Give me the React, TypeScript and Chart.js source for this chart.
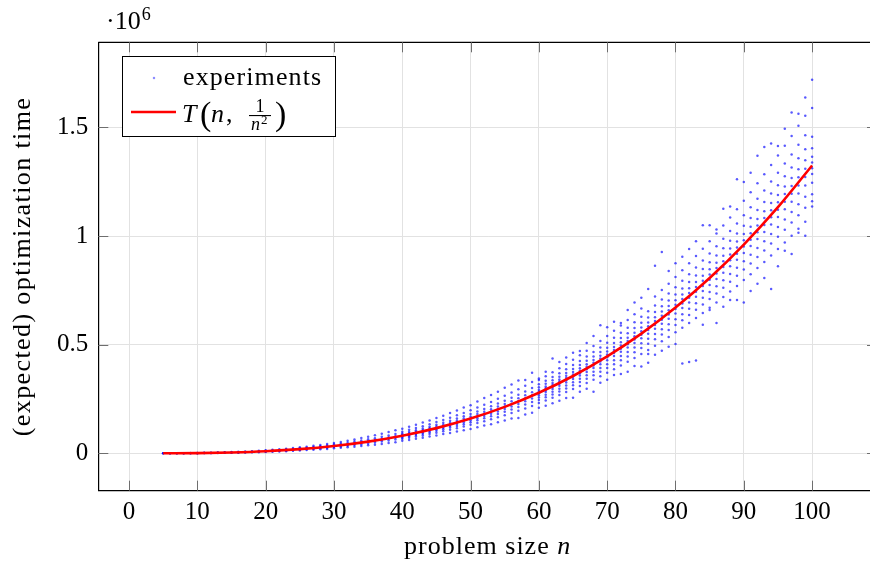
import React, { useEffect, useRef } from "react";
import { Chart, registerables } from "chart.js";

Chart.register(...registerables);

// problem sizes n of the experiments
const experimentN: number[] = [
  5, 6, 7, 8, 9, 10, 11, 12, 13, 14, 15, 16, 17, 18, 19, 20, 21, 22, 23, 24,
  25, 26, 27, 28, 29, 30, 31, 32, 33, 34, 35, 36, 37, 38, 39, 40, 41, 42, 43, 44,
  45, 46, 47, 48, 49, 50, 51, 52, 53, 54, 55, 56, 57, 58, 59, 60, 61, 62, 63, 64,
  65, 66, 67, 68, 69, 70, 71, 72, 73, 74, 75, 76, 77, 78, 79, 80, 81, 82, 83, 84,
  85, 86, 87, 88, 89, 90, 91, 92, 93, 94, 95, 96, 97, 98, 99, 100,
];

// measured optimization times, in thousands, one row per n
const experimentTimesK: number[][] = [
  [0.09, 0.14, 0.21],
  [0.16, 0.24, 0.37],
  [0.27, 0.41, 0.58],
  [0.38, 0.57, 0.88],
  [0.55, 0.83, 1.24],
  [0.74, 1.12, 1.71, 0.95],
  [1.02, 1.49, 2.3, 1.31],
  [1.31, 1.97, 2.94, 1.7],
  [1.72, 2.51, 3.72, 2.2],
  [2.12, 3.18, 4.7, 2.83],
  [2.69, 3.9, 5.71, 3.42],
  [3.21, 4.8, 7.02, 4.18],
  [3.92, 5.7, 8.35, 5.12],
  [4.61, 6.88, 9.95, 6.02],
  [5.52, 8.1, 11.8, 7.05],
  [6.5, 8.2, 9.4, 10.3, 11.7, 13.9],
  [7.6, 9.6, 10.9, 12.0, 13.5, 16.1],
  [8.9, 11.2, 12.6, 13.7, 15.6, 18.3],
  [10.1, 12.8, 14.3, 15.9, 17.9, 21.4],
  [11.6, 14.5, 16.4, 17.9, 20.2, 24.0],
  [13.0, 16.5, 18.6, 20.3, 22.9, 27.5],
  [14.8, 18.4, 21.0, 22.9, 25.8, 30.6],
  [16.4, 20.9, 23.5, 25.6, 29.3, 34.8],
  [18.5, 23.1, 26.2, 28.8, 32.4, 38.9],
  [20.4, 25.9, 29.1, 31.9, 36.3, 43.0],
  [22.9, 28.6, 32.4, 35.5, 40.1, 47.9],
  [25.2, 31.8, 35.7, 39.0, 44.5, 52.6],
  [27.9, 34.8, 39.5, 43.2, 48.8, 58.4],
  [30.6, 38.3, 43.3, 47.5, 53.9, 63.7],
  [33.3, 42.0, 47.4, 51.8, 58.6, 70.1],
  [36.7, 45.7, 51.9, 56.8, 64.3, 76.2],
  [39.8, 50.0, 56.3, 61.9, 69.8, 83.4],
  [43.4, 54.2, 61.5, 67.0, 76.0, 90.2],
  [47.0, 58.9, 66.6, 72.9, 82.3, 98.4],
  [51.1, 63.6, 72.2, 78.8, 89.4, 106.2],
  [57.5, 66.8, 72.4, 77.3, 81.6, 85.9, 91.4, 99.2, 113.5],
  [61.1, 71.2, 78.3, 83.5, 88.1, 93.0, 99.6, 108.3, 121.9],
  [67.2, 77.5, 83.9, 89.6, 94.8, 99.9, 106.5, 116.3, 131.8],
  [71.3, 82.4, 90.1, 96.3, 101.9, 107.4, 114.6, 125.0, 142.1],
  [77.9, 89.0, 96.8, 103.2, 109.1, 115.0, 122.5, 133.4, 150.7],
  [82.0, 95.1, 103.6, 110.5, 116.7, 123.1, 131.3, 143.8, 162.4],
  [88.7, 101.6, 110.9, 118.2, 124.8, 131.8, 140.4, 153.5, 173.0],
  [93.9, 108.7, 118.4, 126.3, 133.4, 140.7, 150.1, 164.0, 186.2],
  [101.0, 115.7, 126.1, 134.5, 142.3, 150.2, 160.1, 174.8, 197.4],
  [106.3, 123.4, 134.3, 143.3, 151.5, 159.8, 170.4, 186.2, 211.5],
  [111.8, 131.2, 142.7, 152.6, 161.1, 170.0, 181.3, 198.4, 221.0],
  [120.4, 139.1, 151.8, 162.0, 171.2, 180.6, 192.6, 210.6, 238.2],
  [127.6, 148.0, 161.0, 171.8, 181.5, 191.7, 204.2, 223.4, 254.3],
  [134.1, 156.7, 170.5, 182.2, 192.4, 203.0, 216.5, 236.6, 268.9],
  [143.4, 165.9, 180.8, 192.9, 203.8, 215.1, 229.4, 250.7, 283.5],
  [150.8, 175.6, 191.1, 204.0, 215.6, 227.5, 242.5, 265.3, 301.6],
  [160.3, 185.3, 201.8, 215.4, 227.6, 240.1, 256.1, 279.7, 316.9],
  [162.4, 195.6, 213.0, 227.3, 240.2, 253.4, 270.2, 295.4, 335.0],
  [178.6, 206.2, 224.6, 239.7, 253.2, 267.2, 284.9, 311.3, 338.0],
  [187.2, 217.4, 236.7, 252.6, 266.9, 281.7, 300.3, 328.5, 371.2],
  [209.3, 231.6, 245.5, 256.7, 267.8, 276.2, 284.6, 293.0, 304.1, 318.1, 337.6, 345.0],
  [219.2, 243.6, 258.3, 270.0, 281.8, 290.6, 299.4, 308.2, 320.0, 334.6, 355.1, 376.0],
  [230.1, 255.8, 271.2, 283.5, 295.9, 305.1, 314.4, 323.6, 335.9, 351.3, 372.9, 437.0],
  [242.0, 268.7, 284.9, 297.8, 310.8, 320.5, 330.2, 339.9, 352.8, 369.0, 391.7, 420.8],
  [255.0, 281.9, 298.9, 312.5, 326.1, 336.3, 346.5, 356.7, 370.3, 387.3, 411.0, 441.6],
  [256.0, 295.6, 313.5, 327.7, 342.0, 352.6, 363.3, 374.0, 388.3, 406.1, 431.0, 463.1],
  [283.4, 309.5, 328.2, 343.1, 358.0, 369.2, 380.4, 391.5, 406.5, 425.1, 451.2, 471.0],
  [296.8, 324.1, 343.6, 359.3, 374.9, 386.6, 398.3, 410.0, 425.6, 445.2, 472.5, 507.7],
  [284.0, 339.2, 359.7, 376.0, 392.4, 404.6, 416.9, 429.1, 445.5, 465.9, 494.5, 540.0],
  [324.8, 354.7, 376.1, 393.2, 410.3, 423.1, 436.0, 448.8, 465.9, 487.2, 517.2, 590.0],
  [339.2, 370.4, 392.7, 410.6, 428.4, 441.8, 455.2, 468.6, 486.5, 508.8, 540.0, 580.2],
  [360.0, 386.9, 410.3, 428.9, 447.6, 461.5, 475.5, 489.5, 508.2, 531.5, 564.1, 606.1],
  [365.0, 403.9, 428.2, 447.7, 467.1, 481.7, 496.3, 510.9, 530.4, 554.7, 588.8, 600.0],
  [376.0, 421.0, 446.3, 466.6, 486.9, 502.1, 517.3, 532.6, 552.8, 578.2, 613.7, 659.4],
  [402.0, 439.0, 465.4, 486.6, 507.7, 523.6, 539.5, 555.3, 576.5, 602.9, 640.0, 694.0],
  [400.0, 457.5, 485.1, 507.1, 529.2, 545.7, 562.2, 578.8, 600.8, 628.4, 667.0, 716.6],
  [417.0, 457.0, 476.0, 504.7, 527.6, 550.6, 567.8, 585.0, 602.2, 625.1, 653.8, 757.0],
  [453.7, 495.5, 525.4, 549.2, 573.1, 591.0, 608.9, 626.9, 650.7, 680.6, 722.4, 864.0],
  [472.1, 515.6, 546.7, 571.5, 596.4, 615.0, 633.6, 652.3, 677.1, 708.2, 751.7, 927.0],
  [490.5, 535.7, 568.0, 593.8, 619.6, 639.0, 658.3, 677.7, 703.5, 735.8, 781.0, 839.0],
  [503.0, 556.8, 590.4, 617.2, 644.1, 664.2, 684.3, 704.4, 731.3, 764.8, 811.8, 875.0],
  [413.0, 578.0, 612.8, 640.7, 668.5, 689.4, 710.3, 731.2, 759.1, 793.9, 842.6, 905.3],
  [420.0, 600.3, 636.5, 665.4, 694.4, 716.1, 737.8, 759.5, 788.4, 824.6, 875.2, 940.3],
  [427.0, 623.2, 660.7, 690.7, 720.8, 743.3, 765.8, 788.3, 818.4, 855.9, 908.5, 976.0],
  [591.5, 646.0, 684.9, 716.0, 747.2, 770.5, 793.9, 817.2, 848.3, 887.3, 941.7, 1050.0],
  [660.0, 670.0, 710.3, 742.6, 774.9, 799.1, 823.3, 847.6, 879.8, 920.2, 976.7, 1049.4],
  [600.0, 693.9, 735.7, 769.1, 802.6, 827.6, 852.7, 877.8, 911.2, 953.0, 1011.6, 1030.0],
  [675.0, 719.1, 762.4, 797.1, 831.7, 857.7, 883.7, 909.7, 944.4, 987.7, 1048.3, 1126.3],
  [706.0, 744.9, 789.8, 825.7, 861.6, 888.5, 915.5, 942.4, 978.3, 1023.2, 1086.0, 1136.0],
  [705.7, 770.7, 817.1, 854.2, 891.4, 919.2, 947.1, 974.9, 1012.1, 1058.5, 1123.5, 1262.0],
  [694.0, 797.7, 845.8, 884.2, 922.7, 951.5, 980.3, 1009.2, 1047.6, 1095.7, 1162.9, 1249.4],
  [747.0, 824.6, 874.3, 914.0, 953.8, 983.6, 1013.4, 1043.2, 1082.9, 1132.6, 1202.1, 1291.6],
  [781.0, 852.9, 904.3, 945.4, 986.5, 1017.3, 1048.2, 1079.0, 1120.1, 1171.5, 1243.4, 1370.0],
  [806.7, 881.0, 934.1, 976.6, 1019.0, 1050.9, 1082.7, 1114.6, 1157.0, 1210.1, 1284.4, 1410.0],
  [757.0, 910.7, 965.5, 1009.4, 1053.3, 1086.2, 1119.1, 1152.1, 1195.9, 1250.8, 1327.6, 1426.4],
  [860.8, 940.1, 996.7, 1042.0, 1087.3, 1121.3, 1155.3, 1189.2, 1234.5, 1291.2, 1370.4, 1415.0],
  [933.0, 971.0, 1029.5, 1076.3, 1123.1, 1158.2, 1193.3, 1228.4, 1275.2, 1333.7, 1415.6, 1494.0],
  [917.2, 1001.7, 1062.1, 1110.3, 1158.6, 1194.8, 1231.0, 1267.2, 1315.5, 1375.9, 1460.3, 1569.0],
  [1015.0, 1034.0, 1096.3, 1146.1, 1196.0, 1233.3, 1270.7, 1308.1, 1357.9, 1420.2, 1507.4, 1563.0],
  [1002.0, 1066.1, 1130.3, 1181.6, 1233.0, 1271.6, 1310.1, 1348.6, 1400.0, 1464.2, 1554.1, 1638.0],
  [1136.0, 1160.0, 1192.5, 1245.5, 1285.3, 1311.8, 1338.3, 1364.8, 1404.5, 1457.5, 1590.0, 1720.0],
];

// expected optimization time T(n, 1/n^2), in thousands
const curveN: number[] = [5, 10, 15, 20, 25, 30, 35, 40, 45, 50, 55, 60, 65, 70, 75, 80, 85, 90, 95, 100];
const curveK: number[] = [
  0.14, 1.18, 4.06, 9.78, 19.3, 33.7, 53.9, 81.0, 116.0, 160.0,
  214.0, 279.0, 356.0, 446.0, 551.0, 671.0, 807.0, 961.0, 1133.0, 1325.0,
];

const xTickValues: number[] = [0, 10, 20, 30, 40, 50, 60, 70, 80, 90, 100];
const yTickValues: number[] = [0, 0.5, 1, 1.5]; // in units of 10^6

const SERIF = "'Liberation Serif', 'Times New Roman', serif";
const DOT = "rgba(0,0,255,0.65)";

function spaced(ctx: CanvasRenderingContext2D, px: number) {
  (ctx as any).letterSpacing = `${px}px`;
}

const decorPlugin = {
  id: "decor",
  afterDraw(chart: any) {
    const ctx: CanvasRenderingContext2D = chart.ctx;
    const { left, right, top, bottom } = chart.chartArea;
    const xs = chart.scales.x;
    const ys = chart.scales.y;
    ctx.save();

    // box top & right lines
    ctx.strokeStyle = "#000";
    ctx.lineWidth = 1.2;
    ctx.beginPath();
    ctx.moveTo(left, top);
    ctx.lineTo(right, top);
    ctx.lineTo(right, bottom);
    ctx.stroke();

    // inward ticks
    ctx.strokeStyle = "#6e6e6e";
    ctx.lineWidth = 1;
    const tl = 10;
    ctx.beginPath();
    for (const v of xTickValues) {
      const px = Math.round(xs.getPixelForValue(v)) + 0.5;
      ctx.moveTo(px, bottom);
      ctx.lineTo(px, bottom - tl);
      ctx.moveTo(px, top);
      ctx.lineTo(px, top + tl);
    }
    for (const v of yTickValues) {
      const py = Math.round(ys.getPixelForValue(v * 1e6)) + 0.5;
      ctx.moveTo(left, py);
      ctx.lineTo(left + tl, py);
      ctx.moveTo(right, py);
      ctx.lineTo(right - tl, py);
    }
    ctx.stroke();

    ctx.fillStyle = "#000";
    ctx.textBaseline = "alphabetic";

    // x axis title
    const xt1 = "problem size ";
    const xt2 = "n";
    spaced(ctx, 1);
    ctx.font = `26px ${SERIF}`;
    const w1 = ctx.measureText(xt1).width;
    ctx.font = `italic 26px ${SERIF}`;
    const w2 = ctx.measureText(xt2).width;
    const cx = (left + Math.min(right, 877)) / 2;
    const sx = cx - (w1 + w2) / 2;
    ctx.textAlign = "left";
    ctx.font = `26px ${SERIF}`;
    ctx.fillText(xt1, sx, 554);
    ctx.font = `italic 26px ${SERIF}`;
    ctx.fillText(xt2, sx + w1, 554);

    // y axis title
    ctx.save();
    ctx.translate(30, (top + bottom) / 2);
    ctx.rotate(-Math.PI / 2);
    ctx.textAlign = "center";
    spaced(ctx, 1.4);
    ctx.font = `26px ${SERIF}`;
    ctx.fillText("(expected) optimization time", 0, 0);
    ctx.restore();

    // scale factor
    spaced(ctx, 0);
    ctx.textAlign = "left";
    ctx.font = `26px ${SERIF}`;
    ctx.fillText("·10", 106, 28.5);
    const w10 = ctx.measureText("·10").width;
    ctx.font = `18px ${SERIF}`;
    ctx.fillText("6", 106 + w10 + 1, 20);

    // legend
    const lx = 122.5, ly = 56.5, lw = 213, lh = 80;
    ctx.fillStyle = "#fff";
    ctx.fillRect(lx, ly, lw, lh);
    ctx.strokeStyle = "#000";
    ctx.lineWidth = 1;
    ctx.strokeRect(lx, ly, lw, lh);

    ctx.fillStyle = "rgba(0,0,255,0.45)";
    ctx.beginPath();
    ctx.arc(154, 78, 1.25, 0, Math.PI * 2);
    ctx.fill();

    ctx.fillStyle = "#000";
    spaced(ctx, 1.1);
    ctx.font = `26px ${SERIF}`;
    ctx.fillText("experiments", 183, 85);
    spaced(ctx, 0);

    ctx.strokeStyle = "#ff0000";
    ctx.lineWidth = 2.6;
    ctx.beginPath();
    ctx.moveTo(131, 112);
    ctx.lineTo(176, 112);
    ctx.stroke();

    ctx.fillStyle = "#000";
    ctx.font = `italic 26px ${SERIF}`;
    ctx.fillText("T", 182, 121.5);
    ctx.font = `34px ${SERIF}`;
    ctx.fillText("(", 200, 125);
    ctx.font = `italic 26px ${SERIF}`;
    ctx.fillText("n", 211, 121.5);
    ctx.font = `26px ${SERIF}`;
    ctx.fillText(",", 226, 121.5);
    ctx.textAlign = "center";
    ctx.font = `18px ${SERIF}`;
    ctx.fillText("1", 260, 112);
    ctx.fillRect(249, 115, 22, 1.1);
    ctx.textAlign = "left";
    ctx.font = `italic 18px ${SERIF}`;
    ctx.fillText("n", 251, 130);
    const wn = ctx.measureText("n").width;
    ctx.font = `13px ${SERIF}`;
    ctx.fillText("2", 251 + wn + 1, 124);
    ctx.font = `34px ${SERIF}`;
    ctx.fillText(")", 275, 125);

    ctx.restore();
  },
};

export default function App() {
  const ref = useRef<HTMLCanvasElement | null>(null);

  useEffect(() => {
    if (!ref.current) return;
    const points: { x: number; y: number }[] = [];
    experimentN.forEach((n, i) => {
      experimentTimesK[i].forEach((v) => points.push({ x: n, y: v * 1000 }));
    });
    const curve = curveN.map((n, i) => ({ x: n, y: curveK[i] * 1000 }));

    const chart = new Chart(ref.current, {
      type: "scatter",
      data: {
        datasets: [
          {
            type: "line",
            label: "T(n, 1/n²)",
            data: curve,
            showLine: true,
            borderColor: "#ff0000",
            backgroundColor: "#ff0000",
            borderWidth: 2.6,
            pointRadius: 0,
            cubicInterpolationMode: "monotone",
            fill: false,
            order: 0,
          } as any,
          {
            type: "scatter",
            label: "experiments",
            data: points,
            pointRadius: 1.25,
            pointBackgroundColor: DOT,
            pointBorderWidth: 0,
            order: 1,
          } as any,
        ],
      },
      options: {
        responsive: false,
        animation: false,
        devicePixelRatio: 1,
        layout: { padding: { left: 0, right: 23, top: 42.3, bottom: 0 } },
        plugins: {
          legend: { display: false },
          tooltip: { enabled: false },
        },
        scales: {
          x: {
            type: "linear",
            min: -4.5,
            max: 109.5,
            afterFit: (s: any) => {
              s.height = 71.3;
            },
            afterBuildTicks: (s: any) => {
              s.ticks = xTickValues.map((v) => ({ value: v }));
            },
            grid: { color: "#e2e2e2", lineWidth: 1, drawTicks: false },
            border: { color: "#000", width: 1.2 },
            ticks: {
              padding: 7,
              color: "#000",
              font: { family: SERIF, size: 25 },
              maxRotation: 0,
              autoSkip: false,
              callback: (v: any) => String(v),
            },
          },
          y: {
            type: "linear",
            min: -172000,
            max: 1892000,
            afterFit: (s: any) => {
              s.width = 98.3;
            },
            afterBuildTicks: (s: any) => {
              s.ticks = yTickValues.map((v) => ({ value: v * 1e6 }));
            },
            grid: { color: "#e2e2e2", lineWidth: 1, drawTicks: false },
            border: { color: "#000", width: 1.2 },
            ticks: {
              padding: 10,
              color: "#000",
              font: { family: SERIF, size: 25 },
              autoSkip: false,
              callback: (v: any) => String(Number(v) / 1e6),
            },
          },
        },
      } as any,
      plugins: [decorPlugin],
    });
    return () => chart.destroy();
  }, []);

  return (
    <div
      style={{
        position: "fixed",
        left: 0,
        top: 0,
        width: 870,
        height: 562,
        overflow: "hidden",
        background: "#fff",
      }}
    >
      <canvas ref={ref} width={900} height={562} style={{ width: 900, height: 562, display: "block" }} />
    </div>
  );
}
